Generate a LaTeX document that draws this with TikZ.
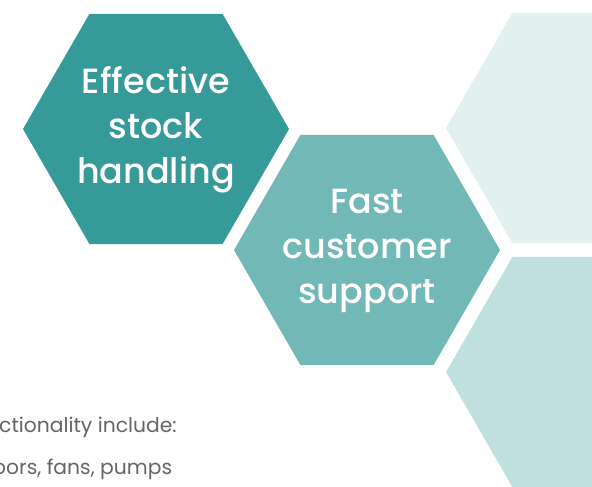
\documentclass[tikz,border=0pt]{standalone}
\usepackage{fontspec}
\setmainfont{Poppins}
\newfontfamily\hexfont{Poppins}[UprightFont=* Medium]
\usetikzlibrary{shapes.geometric}
\definecolor{hexA}{HTML}{359A98}
\definecolor{hexB}{HTML}{72B8B7}
\definecolor{hexC}{HTML}{E3F0F0}
\definecolor{hexD}{HTML}{C0E0DF}
\definecolor{txtgray}{HTML}{666666}
\tikzset{
  hexcell/.style={regular polygon, regular polygon sides=6, minimum size=266pt,
    inner sep=0pt, outer sep=0pt, draw=none},
  hexlabel/.style={inner sep=0pt, text=white, align=center,
    font=\hexfont\fontsize{35}{45}\selectfont},
  bodytext/.style={anchor=west, inner sep=0pt, text=txtgray,
    font=\fontsize{20.3}{21}\selectfont}
}
\begin{document}
\begin{tikzpicture}[x=1pt,y=-1pt]
\useasboundingbox (0,0) rectangle (592,487);
\clip (0,0) rectangle (592,487);
\fill[white] (0,0) rectangle (592,487);
\node[hexcell, fill=hexA] (h1) at (156,129) {};
\node[hexcell, fill=hexB] (h2) at (367,250) {};
\node[hexcell, fill=hexC] (h3) at (579,128) {};
\node[hexcell, fill=hexD] (h4) at (579,372) {};
\node[hexlabel] (l1) at ([yshift=-1pt]h1.center) {Effective\\stock\\handling};
\node[hexlabel] (l2) at ([yshift=-1pt]h2.center) {Fast\\customer\\support};
\node[bodytext] (t1) at (-1,427) {ctionality include:};
\node[bodytext] (t2) at (-7,469) {oors, fans, pumps};
\end{tikzpicture}
\end{document}
